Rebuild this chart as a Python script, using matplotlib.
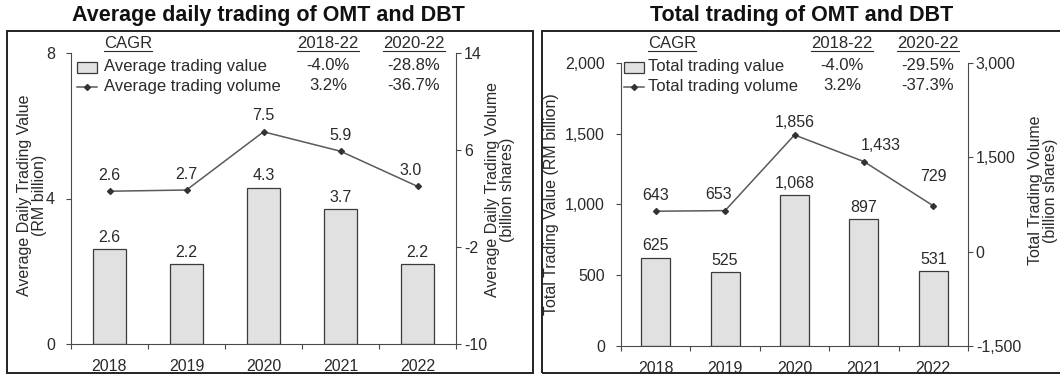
import matplotlib
matplotlib.use("Agg")
import matplotlib.pyplot as plt
import matplotlib.patches as mpatches
from matplotlib.lines import Line2D

plt.rcParams['font.family'] = ['Liberation Sans', 'DejaVu Sans']

years = ['2018', '2019', '2020', '2021', '2022']

# average daily trading
avg_value = [2.6, 2.2, 4.3, 3.7, 2.2]
avg_volume = [2.6, 2.7, 7.5, 5.9, 3.0]
avg_cagr_1822 = ['-4.0%', '3.2%']
avg_cagr_2022 = ['-28.8%', '-36.7%']

# total trading
tot_value = [625, 525, 1068, 897, 531]
tot_volume = [643, 653, 1856, 1433, 729]
tot_cagr_1822 = ['-4.0%', '3.2%']
tot_cagr_2022 = ['-29.5%', '-37.3%']

W, H = 1060, 376
BAR_FACE = '#e1e1e1'
BAR_EDGE = '#3a3a3a'
LINE_C = '#5a5a5a'
TXT = '#2a2a2a'
SPINE = '#4a4a4a'
FS = 11.5


def fx(px):
    return px / W


def fy(py):
    return 1 - py / H


fig = plt.figure(figsize=(W / 100, H / 100), dpi=100)


def panel(rect, values, volumes, ylim, yticks, y2lim, y2ticks, tick_fmt,
          lab_fmt, bar_off, line_off):
    ax = fig.add_axes(rect)
    x = list(range(len(years)))
    ax.bar(x, values, width=0.42, color=BAR_FACE, edgecolor=BAR_EDGE,
           linewidth=0.9, zorder=2)
    ax.set_xlim(-0.5, len(years) - 0.5)
    ax.set_ylim(*ylim)
    ax.set_yticks(yticks)
    ax.set_yticklabels([tick_fmt(v) for v in yticks])
    # ticks sit between the categories, labels under the bars
    ax.set_xticks([i - 0.5 for i in range(len(years) + 1)])
    ax.set_xticklabels([])
    ax.set_xticks(x, minor=True)
    ax.set_xticklabels(years, minor=True)
    ax.tick_params(axis='x', which='major', length=3.6, direction='out',
                   color=SPINE, width=0.8)
    ax.tick_params(axis='x', which='minor', length=0, pad=11, labelsize=FS,
                   labelcolor=TXT)
    ax.tick_params(axis='y', length=3.6, width=0.8, color=SPINE, pad=8,
                   labelsize=FS, labelcolor=TXT)
    for s in ['top', 'right']:
        ax.spines[s].set_visible(False)
    for s in ['left', 'bottom']:
        ax.spines[s].set_color(SPINE)
        ax.spines[s].set_linewidth(0.8)
    for i, v in enumerate(values):
        ax.annotate(lab_fmt(v), (i, v), xytext=bar_off[i], textcoords='offset points',
                    ha='center', va='bottom', fontsize=FS, color=TXT)

    ax2 = ax.twinx()
    ax2.plot(x, volumes, color=LINE_C, linewidth=1.1, marker='D',
             markersize=3, markerfacecolor='#333333', markeredgecolor='#333333',
             zorder=3)
    ax2.set_ylim(*y2lim)
    ax2.set_yticks(y2ticks)
    ax2.set_yticklabels([tick_fmt(v) for v in y2ticks])
    ax2.tick_params(axis='y', length=3.6, width=0.8, color=SPINE, pad=2,
                    labelsize=FS, labelcolor=TXT)
    for s in ['top', 'left', 'bottom']:
        ax2.spines[s].set_visible(False)
    ax2.spines['right'].set_color(SPINE)
    ax2.spines['right'].set_linewidth(0.8)
    for i, v in enumerate(volumes):
        ax2.annotate(lab_fmt(v), (i, v), xytext=line_off[i], textcoords='offset points',
                     ha='center', va='bottom', fontsize=FS, color=TXT)
    return ax, ax2


def legend_block(x_patch, x_text, x_c1, x_c2, labels, c1, c2):
    heads = [fig.text(fx(x_text), fy(44), 'CAGR', ha='left', va='center',
                      fontsize=12, color=TXT),
             fig.text(fx(x_c1), fy(44), '2018-22', ha='center', va='center',
                      fontsize=12, color=TXT),
             fig.text(fx(x_c2), fy(44), '2020-22', ha='center', va='center',
                      fontsize=12, color=TXT)]
    fig.patches.append(mpatches.Rectangle((fx(x_patch), fy(73)), fx(20), 11 / H,
                                          transform=fig.transFigure,
                                          facecolor=BAR_FACE, edgecolor=BAR_EDGE,
                                          linewidth=0.9))
    fig.lines.append(Line2D([fx(x_patch), fx(x_patch + 20)], [fy(87), fy(87)],
                            transform=fig.transFigure, color=LINE_C, lw=1.1))
    fig.lines.append(Line2D([fx(x_patch + 10)], [fy(87)], transform=fig.transFigure,
                            marker='D', markersize=3, color='#333333'))
    for row, yy in enumerate([66, 86]):
        fig.text(fx(x_text), fy(yy), labels[row], ha='left', va='center',
                 fontsize=12, color=TXT)
        fig.text(fx(x_c1), fy(yy), c1[row], ha='center', va='center',
                 fontsize=12, color=TXT)
        fig.text(fx(x_c2), fy(yy), c2[row], ha='center', va='center',
                 fontsize=12, color=TXT)
    return heads


ax_a, ax_a2 = panel([fx(71), fy(344), fx(456 - 71), (344 - 53) / H],
                    avg_value, avg_volume, (0, 8), [0, 4, 8], (-10, 14),
                    [-10, -2, 6, 14], lambda v: f'{v:g}', lambda v: f'{v:.1f}',
                    [(0, 3)] * 5,
                    [(0, 6), (0, 6), (0, 6), (0, 6), (-5, 6)])
ax_a.set_ylabel('Average Daily Trading Value\n(RM billion)', fontsize=FS,
                color=TXT, linespacing=1.0)
ax_a.yaxis.set_label_coords(-0.063, 0.51)
ax_a2.set_ylabel('Average Daily Trading Volume\n(billion shares)', fontsize=FS,
                 color=TXT, linespacing=1.0, rotation=90)
ax_a2.yaxis.set_label_coords(1.075, 0.53)

ax_b, ax_b2 = panel([fx(621), fy(346), fx(968 - 621), (346 - 63) / H],
                    tot_value, tot_volume, (0, 2000), [0, 500, 1000, 1500, 2000],
                    (-1500, 3000), [-1500, 0, 1500, 3000], lambda v: f'{v:,.0f}',
                    lambda v: f'{v:,.0f}',
                    [(0, 3)] * 5,
                    [(0, 6), (-5, 6), (0, 3.5), (12, 6), (0, 16)])
ax_b.set_ylabel('Total Trading Value (RM billion)', fontsize=FS, color=TXT)
ax_b.yaxis.set_label_coords(-0.178, 0.5)
ax_b2.set_ylabel('Total Trading Volume\n(billion shares)', fontsize=FS,
                 color=TXT, linespacing=1.0, rotation=90)
ax_b2.yaxis.set_label_coords(1.172, 0.55)

heads = legend_block(77, 104, 328, 414, ['Average trading value',
                                          'Average trading volume'],
                     avg_cagr_1822, avg_cagr_2022)
heads += legend_block(624, 648, 842, 928, ['Total trading value',
                                            'Total trading volume'],
                      tot_cagr_1822, tot_cagr_2022)

fig.text(fx(268), fy(15), 'Average daily trading of OMT and DBT', ha='center',
         va='center', fontsize=15.5, fontweight='bold', color='#111111')
fig.text(fx(802), fy(15), 'Total trading of OMT and DBT', ha='center',
         va='center', fontsize=15.5, fontweight='bold', color='#111111')

# frames round each panel
for x0, x1 in [(7, 533), (542, 1063)]:
    fig.patches.append(mpatches.Rectangle((fx(x0), fy(373)), fx(x1 - x0), (373 - 31) / H,
                                          transform=fig.transFigure, fill=False,
                                          edgecolor='#222222', linewidth=1.4,
                                          clip_on=False))

# underline the legend headers
fig.canvas.draw()
rend = fig.canvas.get_renderer()
for t in heads:
    bb = t.get_window_extent(rend).transformed(fig.transFigure.inverted())
    fig.lines.append(Line2D([bb.x0, bb.x1], [bb.y0 + 1 / H, bb.y0 + 1 / H],
                            transform=fig.transFigure, color=TXT, lw=0.8))

fig.savefig('out.png', dpi=100)
